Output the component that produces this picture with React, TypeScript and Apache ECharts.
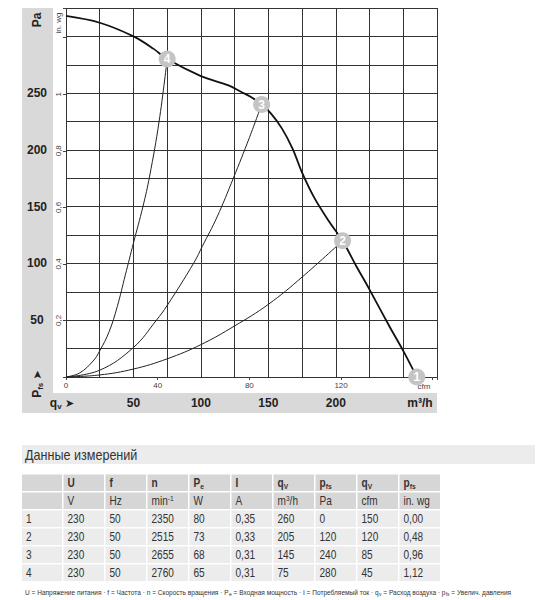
import React, { useEffect, useRef } from 'react';
import * as echarts from 'echarts';

const FONT = "'Liberation Sans', Arial, sans-serif";

const PA_PER_INWG = 249.0889;
const CFM_PER_M3H = 0.588578;

// Fan characteristic curve (qv m³/h, pfs Pa)
const fanQ = [0, 25, 50, 65, 75, 100, 120, 130, 138, 145, 152, 160, 168, 175, 184, 195, 205, 215, 225, 240, 250, 260];
const fanP = [318, 312, 300, 289, 280, 265, 257, 251, 246, 240, 232, 219, 201, 180, 158, 137, 120, 98, 77, 44, 23, 0];

// System curves through operating points 4, 3, 2
const sys4Q = [0, 10, 20, 25, 32, 38, 44, 50, 57, 62, 69, 75];
const sys4P = [0, 3.5, 14, 23, 40, 62, 90, 118, 150, 177, 225, 280];
const sys3Q = [0, 25, 50, 67, 75, 95, 101, 112, 124, 136, 145];
const sys3P = [0, 6, 26, 50, 63, 101, 115, 141, 175, 211, 240];
const sys2Q = [0, 25, 50, 75, 100, 125, 150, 175, 205];
const sys2P = [0, 1.8, 7, 16, 28.5, 45, 64, 88, 120];

// Measurement table
const rowNums = ['1', '2', '3', '4'];
const measU = [230, 230, 230, 230];
const measF = [50, 50, 50, 50];
const measN = [2350, 2515, 2655, 2760];
const measPe = [80, 73, 68, 65];
const measI = [0.35, 0.33, 0.31, 0.31];
const measQvM3h = [260, 205, 145, 75];
const measPfsPa = [0, 120, 240, 280];
const measQvCfm = [150, 120, 85, 45];
const measPfsInwg = [0.0, 0.48, 0.96, 1.12];

const headerRow1 = ['', '{b|U}', '{b|f}', '{b|n}', '{b|P}{bs|e}', '{b|I}', '{b|q}{bs|V}', '{b|p}{bs|fs}', '{b|q}{bs|V}', '{b|p}{bs|fs}'];
const headerRow2 = ['', 'V', 'Hz', '{r|min}{sup|-1}', 'W', 'A', '{r|m}{sup|3}{r|/h}', 'Pa', 'cfm', 'in. wg'];

const footerText =
  '{r|U = Напряжение питания · f = Частота · n = Скорость вращения · P}{s|e}{r| = Входная мощность · I = Потребляемый ток · q}{s|v}{r| = Расход воздуха · p}{s|fs}{r| = Увелич. давления}';

const comma = (v: number, d: number) => v.toFixed(d).replace('.', ',');
const NARROW_SCALE = 0.84;

function buildTable(): any[] {
  const els: any[] = [];
  const colX = (c: number) => (c === 0 ? 22 : 63.5 + 42 * (c - 1));
  const colW = (c: number) => (c === 0 ? 40 : 40.5);
  const rowY = (r: number) => 474.5 + 18 * r;
  const rich = {
    b: { fontFamily: FONT, fontWeight: 'bold', fontSize: 12, lineHeight: 14, fill: '#333' },
    bs: { fontFamily: FONT, fontWeight: 'bold', fontSize: 8, lineHeight: 8, verticalAlign: 'bottom', fill: '#333' },
    r: { fontFamily: FONT, fontSize: 12, lineHeight: 14, fill: '#333' },
    sup: { fontFamily: FONT, fontSize: 8, lineHeight: 8, verticalAlign: 'top', fill: '#333' },
  };
  const rows: string[][] = [headerRow1, headerRow2];
  for (let i = 0; i < rowNums.length; i++) {
    rows.push([
      rowNums[i],
      String(measU[i]),
      String(measF[i]),
      String(measN[i]),
      String(measPe[i]),
      comma(measI[i], 2),
      String(measQvM3h[i]),
      String(measPfsPa[i]),
      String(measQvCfm[i]),
      comma(measPfsInwg[i], 2),
    ]);
  }
  rows.forEach((row, r) => {
    row.forEach((txt, c) => {
      els.push({
        type: 'rect',
        shape: { x: colX(c), y: rowY(r), width: colW(c), height: 16.5 },
        style: { fill: r < 2 ? '#d6d6d6' : '#ececec' },
        z: 1,
      });
      if (txt) {
        els.push({
          type: 'text',
          x: colX(c) + 4,
          y: rowY(r) + 8.5,
          scaleX: NARROW_SCALE,
          style: {
            text: txt,
            rich,
            fontFamily: FONT,
            fontSize: 12,
            fontWeight: r === 0 ? 'bold' : 'normal',
            fill: '#333',
            align: 'left',
            verticalAlign: 'middle',
          },
          z: 2,
        });
      }
    });
  });
  return els;
}

const axisRich = {
  b: { fontFamily: FONT, fontWeight: 'bold', fontSize: 12, lineHeight: 14, fill: '#222' },
  s: { fontFamily: FONT, fontWeight: 'bold', fontSize: 8, lineHeight: 8, verticalAlign: 'bottom', fill: '#222' },
  a: { fontFamily: "'DejaVu Sans', sans-serif", fontSize: 11, lineHeight: 14, fill: '#222' },
};

export default function App() {
  const ref = useRef<HTMLDivElement>(null);
  useEffect(() => {
    const chart = echarts.init(ref.current!, null, { renderer: 'svg' });
    const pair = (q: number[], p: number[]) => q.map((x, i) => [x, p[i]]);
    const option: any = {
      animation: false,
      grid: { left: 66, right: 113, top: 8, bottom: 223, containLabel: false },
      xAxis: [
        {
          type: 'value',
          min: 0,
          max: 275,
          interval: 25,
          position: 'bottom',
          axisLine: { show: false },
          axisTick: { show: false },
          splitLine: { show: true, lineStyle: { color: '#333', width: 1 } },
          axisLabel: {
            formatter: (v: number) => (v % 50 === 0 && v > 0 && v <= 200 ? String(v) : ''),
            margin: 20,
            fontFamily: FONT,
            fontWeight: 'bold',
            fontSize: 12,
            color: '#222',
          },
        },
        {
          type: 'value',
          min: 0,
          max: 275 * CFM_PER_M3H,
          interval: 40,
          position: 'bottom',
          axisLine: { show: false },
          axisTick: { show: true, length: 3, lineStyle: { color: '#444' } },
          splitLine: { show: false },
          axisLabel: {
            formatter: (v: number) => (v <= 120.5 ? String(Math.round(v)) : ''),
            margin: 4,
            fontFamily: FONT,
            fontSize: 8,
            color: '#444',
          },
        },
      ],
      yAxis: [
        {
          type: 'value',
          min: 0,
          max: 325,
          interval: 25,
          position: 'left',
          axisLine: { show: false },
          axisTick: { show: false },
          splitLine: { show: true, lineStyle: { color: '#333', width: 1 } },
          axisLabel: {
            formatter: (v: number) => (v % 50 === 0 && v > 0 && v < 300 ? String(v) : ''),
            margin: 29,
            align: 'center',
            fontFamily: FONT,
            fontWeight: 'bold',
            fontSize: 12,
            color: '#222',
          },
        },
        {
          type: 'value',
          min: 0,
          max: 325 / PA_PER_INWG,
          interval: 0.2,
          position: 'left',
          axisLine: { show: false },
          axisTick: { show: true, length: 3, lineStyle: { color: '#444' } },
          splitLine: { show: false },
          axisLabel: {
            rotate: 90,
            formatter: (v: number) => (v > 0.01 && v < 1.1 ? String(Math.round(v * 10) / 10).replace('.', ',') : ''),
            margin: 4,
            fontFamily: FONT,
            fontSize: 8,
            color: '#444',
          },
        },
      ],
      graphic: [
        { type: 'rect', shape: { x: 22, y: 8, width: 415, height: 405 }, style: { fill: '#d9d9d9' }, z: -10 },
        { type: 'rect', shape: { x: 53, y: 8, width: 384, height: 385 }, style: { fill: '#ffffff' }, z: -9 },
        {
          type: 'text', x: 37, y: 20, rotation: Math.PI / 2,
          style: { text: 'Pa', fontFamily: FONT, fontWeight: 'bold', fontSize: 12, fill: '#222', align: 'center', verticalAlign: 'middle' },
        },
        {
          type: 'text', x: 37, y: 384, rotation: Math.PI / 2,
          style: { text: '{b|P}{s|fs} {a|➤}', rich: axisRich, align: 'center', verticalAlign: 'middle' },
        },
        {
          type: 'text', x: 62, y: 403,
          style: { text: '{b|q}{s|v} {a|➤}', rich: axisRich, align: 'center', verticalAlign: 'middle' },
        },
        {
          type: 'text', x: 420, y: 403,
          style: { text: 'm³/h', fontFamily: FONT, fontWeight: 'bold', fontSize: 12, fill: '#222', align: 'center', verticalAlign: 'middle' },
        },
        {
          type: 'text', x: 58, y: 23, rotation: Math.PI / 2,
          style: { text: 'in. wg', fontFamily: FONT, fontSize: 8, fill: '#444', align: 'center', verticalAlign: 'middle' },
        },
        {
          type: 'text', x: 424, y: 386,
          style: { text: 'cfm', fontFamily: FONT, fontSize: 8, fill: '#444', align: 'center', verticalAlign: 'middle' },
        },
        { type: 'rect', shape: { x: 22, y: 445, width: 513, height: 19 }, style: { fill: '#ececec' }, z: 1 },
        {
          type: 'text', x: 25, y: 455, z: 2, scaleX: 0.9,
          style: { text: 'Данные измерений', fontFamily: FONT, fontSize: 14, fill: '#333', align: 'left', verticalAlign: 'middle' },
        },
        ...buildTable(),
        {
          type: 'text', x: 25, y: 592, z: 2, scaleX: 0.82,
          style: {
            text: footerText,
            fontFamily: FONT,
            fontSize: 8,
            fill: '#333',
            align: 'left',
            verticalAlign: 'middle',
            rich: {
              r: { fontFamily: FONT, fontSize: 8, lineHeight: 10, fill: '#333' },
              s: { fontFamily: FONT, fontSize: 6, lineHeight: 6, verticalAlign: 'bottom', fill: '#333' },
            },
          },
        },
      ],
      series: [
        {
          type: 'line', xAxisIndex: 0, yAxisIndex: 0, data: pair(fanQ, fanP), smooth: 0.35, symbol: 'none',
          lineStyle: { color: '#111', width: 1.8 }, z: 3,
        },
        {
          type: 'line', xAxisIndex: 0, yAxisIndex: 0, data: pair(sys4Q, sys4P), smooth: 0.4, symbol: 'none',
          lineStyle: { color: '#222', width: 1 }, z: 3,
        },
        {
          type: 'line', xAxisIndex: 0, yAxisIndex: 0, data: pair(sys3Q, sys3P), smooth: 0.4, symbol: 'none',
          lineStyle: { color: '#222', width: 1 }, z: 3,
        },
        {
          type: 'line', xAxisIndex: 0, yAxisIndex: 0, data: pair(sys2Q, sys2P), smooth: 0.4, symbol: 'none',
          lineStyle: { color: '#222', width: 1 }, z: 3,
        },
        {
          type: 'scatter', xAxisIndex: 0, yAxisIndex: 0,
          data: measQvM3h.map((q, i) => [q, measPfsPa[i], rowNums[i]]),
          symbolSize: 17,
          itemStyle: { color: '#c4c4c4', opacity: 1 },
          label: {
            show: true, position: 'inside', formatter: (p: any) => p.data[2],
            color: '#ffffff', fontWeight: 'bold', fontSize: 12, fontFamily: FONT,
            textBorderWidth: 0,
          },
          z: 5,
        },
      ],
    };
    chart.setOption(option);
    return () => chart.dispose();
  }, []);
  return <div ref={ref} style={{ position: 'absolute', left: 0, top: 0, width: 550, height: 600 }} />;
}
